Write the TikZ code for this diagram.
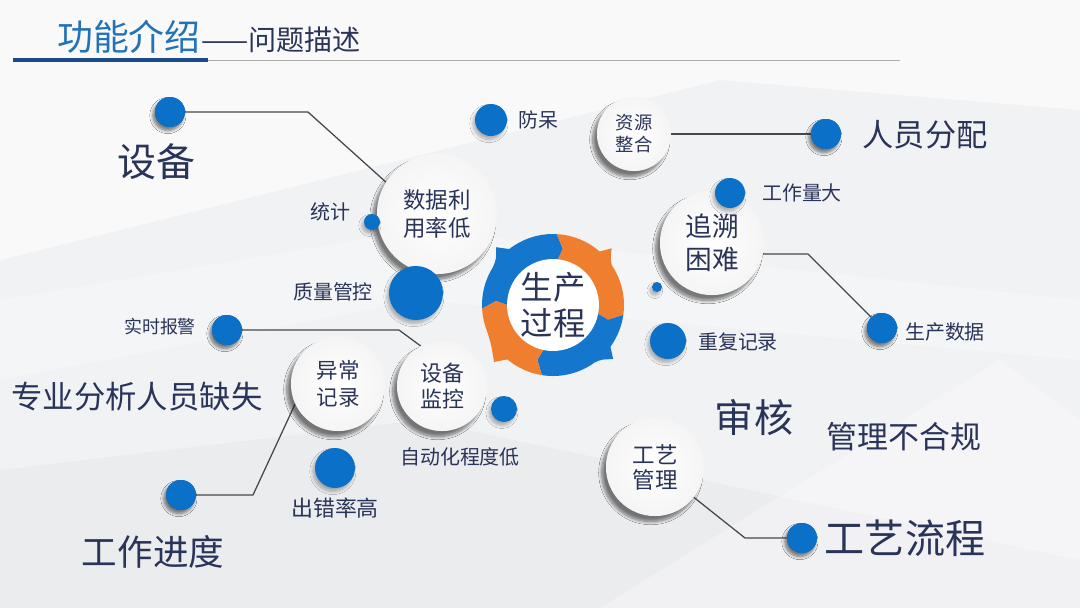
\documentclass[tikz,border=0pt]{standalone}
\usepackage{fontspec}
\setmainfont{Noto Sans CJK SC}
\usetikzlibrary{shadows.blur}
\definecolor{navy}{HTML}{2A3459}
\definecolor{hblue}{HTML}{2272B8}
\definecolor{hdark}{HTML}{1B4A8A}
\definecolor{dotblue}{HTML}{0B71C8}
\definecolor{ringblue}{HTML}{1576CE}
\definecolor{ringorange}{HTML}{EF7F2E}
\definecolor{linegray}{HTML}{45484F}
\definecolor{bggray}{HTML}{F1F2F4}
\newcommand\fsz[2]{\fontsize{#1}{#2}\selectfont}
\begin{document}
\begin{tikzpicture}[x=0.025cm,y=-0.025cm,
  bubble/.style={circle, inner sep=0pt, inner color=white, outer color=black!4,
    blur shadow={shadow xshift=-3pt, shadow yshift=-4pt, shadow opacity=30, shadow blur steps=10},
    text=navy, align=center},
  bdot/.style={circle, inner sep=0pt, fill=dotblue,
    blur shadow={shadow xshift=-1.5pt, shadow yshift=-2.5pt, shadow opacity=30, shadow blur steps=6}},
  lbl/.style={text=navy, inner sep=0pt},
  conn/.style={draw=linegray, line width=0.9pt},
]
\useasboundingbox (0,0) rectangle (1080,608);
% background
\fill[bggray] (0,0) rectangle (1080,608);
\fill[white, opacity=0.6] (0,0) -- (1080,0) -- (1080,110) -- (720,80) -- (0,260) -- cycle;
\fill[white, opacity=0.25] (0,300) -- (420,230) -- (1080,300) -- (1080,360) -- (420,300) -- (0,380) -- cycle;
\fill[black, opacity=0.025] (0,608) -- (0,470) -- (420,420) -- (1080,560) -- (1080,608) -- cycle;
\fill[white, opacity=0.3] (600,608) -- (1000,360) -- (1080,420) -- (1080,608) -- cycle;

% header
\node[anchor=west, inner sep=0pt, text=hblue, font=\fsz{25.5}{30}] (t1) at (57,37) {功能介绍};
\node[anchor=base west, inner sep=0pt, text=navy, font=\fsz{20}{24}] (t2) at (t1.base east) {——问题描述};
\draw[gray!65, line width=0.6pt] (208,60) -- (900,60);
\draw[hdark, line width=2.2pt] (13,60) -- (208,60);

% coordinates for connector bends
\coordinate (k1) at (308,112);
\coordinate (k3) at (808,254);
\coordinate (k4) at (399,330);
\coordinate (k5) at (253,495);
\coordinate (k6) at (745,538);

% bubbles (placed first so connectors can reference them; drawn on top later)
\node[bubble, minimum size=3cm, font=\fsz{16}{20}] (c1) at (437,214) {};
\node[bubble, minimum size=1.85cm, font=\fsz{13}{15.6}] (c2) at (634,134) {};
\node[bubble, minimum size=2.6cm, font=\fsz{19}{23.5}] (c3) at (712,243) {};
\node[bubble, minimum size=2.35cm, font=\fsz{15.3}{19.2}] (c4) at (338,384) {};
\node[bubble, minimum size=2.25cm, font=\fsz{15.6}{19}] (c5) at (442,386) {};
\node[bubble, minimum size=2.45cm, font=\fsz{16}{17.8}] (c6) at (655,467) {};

% blue dots
\node[bdot, minimum size=0.75cm] (d1) at (170,112) {};
\node[bdot, minimum size=0.8cm] (d2) at (491,120) {};
\node[bdot, minimum size=0.75cm] (d5) at (826,134) {};
\node[bdot, minimum size=0.75cm] (d9) at (882,328) {};
\node[bdot, minimum size=0.75cm] (d10) at (802,538) {};
\node[bdot, minimum size=0.75cm] (d11) at (227,330) {};
\node[bdot, minimum size=0.75cm] (d14) at (181,495) {};
\node[bdot, minimum size=1cm] (d13) at (335,468) {};
\node[bdot, minimum size=0.9cm] (d8) at (668,341) {};

% connectors
\draw[conn] (d1.center) -- (k1) -- (c1.148);
\draw[conn] (c2.center) -- (d5.center);
\draw[conn] (c3.-12) -- (k3) -- (d9.center);
\draw[conn] (d11.center) -- (k4) -- (c5.118);
\draw[conn] (c4.205) -- (k5) -- (d14.center);
\draw[conn] (c6.-38) -- (k6) -- (d10.center);

% redraw bubbles and dots above the connectors
\node[bubble, minimum size=3cm, font=\fsz{16}{20}] at (c1) {数据利\\用率低};
\node[bubble, minimum size=1.85cm, font=\fsz{13}{15.6}] at (c2) {资源\\整合};
\node[bubble, minimum size=2.6cm, font=\fsz{19}{23.5}] at (c3) {追溯\\困难};
\node[bubble, minimum size=2.35cm, font=\fsz{15.3}{19.2}] at (c4) {异常\\记录};
\node[bubble, minimum size=2.25cm, font=\fsz{15.6}{19}] at (c5) {设备\\监控};
\node[bubble, minimum size=2.45cm, font=\fsz{16}{17.8}] at (c6) {工艺\\管理};

\node[bdot, minimum size=0.75cm] at (d1) {};
\node[bdot, minimum size=0.75cm] at (d5) {};
\node[bdot, minimum size=0.75cm] at (d9) {};
\node[bdot, minimum size=0.75cm] at (d10) {};
\node[bdot, minimum size=0.75cm] at (d11) {};
\node[bdot, minimum size=0.75cm] at (d14) {};
\node[bdot, minimum size=0.4cm] (d3) at (372,222) {};
\node[bdot, minimum size=1.35cm] (d4) at (416,293) {};
\node[bdot, minimum size=0.75cm] (d6) at (730,193) {};
\node[bdot, minimum size=0.25cm] (d7) at (657,287) {};
\node[bdot, minimum size=0.65cm] (d12) at (504,409) {};

% central cycle
\begin{scope}[shift={(553,305)}, yscale=-1]
  \fill[ringblue] (183:71) arc[start angle=183, end angle=147.6, radius=71]
    .. controls (141:73) .. (134.5:81) -- (128:71)
    arc[start angle=128, end angle=87, radius=71] -- (80:57) -- (87:40)
    arc[start angle=87, end angle=183, radius=40] -- (176:57) -- cycle;
  \fill[ringorange] (87:71) arc[start angle=87, end angle=49, radius=71]
    -- (44:81.5) .. controls (38:73) .. (34:71)
    arc[start angle=34, end angle=-8, radius=71] -- (-15:57) -- (-8:40)
    arc[start angle=-8, end angle=87, radius=40] -- (80:57) -- cycle;
  \fill[ringblue] (-8:71) arc[start angle=-8, end angle=-36, radius=71]
    -- (-42:81) .. controls (-48:73) .. (-54:71)
    arc[start angle=-54, end angle=-99, radius=71] -- (-106:57) -- (-99:40)
    arc[start angle=-99, end angle=-8, radius=40] -- (-15:57) -- cycle;
  \fill[ringorange] (-99:71) arc[start angle=-99, end angle=-130, radius=71]
    -- (-136:82) .. controls (-148:73) .. (-158:71)
    arc[start angle=-158, end angle=-177, radius=71] -- (-184:57) -- (-177:40)
    arc[start angle=-177, end angle=-99, radius=40] -- (-106:57) -- cycle;
\end{scope}
\node[circle, fill=white, minimum size=2.2cm, inner sep=0pt, text=navy, align=center,
  font=\fsz{23}{25.6}] (ring) at (553,305) {生产\\过程};

% labels
\node[lbl, font=\fsz{27.7}{30}] (l1) at (156,162) {设备};
\node[lbl, font=\fsz{14.2}{16}] (l2) at (538,120) {防呆};
\node[lbl, font=\fsz{14.2}{16}] (l3) at (330,212) {统计};
\node[lbl, font=\fsz{14.2}{16}] (l4) at (333,292) {质量管控};
\node[lbl, font=\fsz{22.2}{26}] (l5) at (925,135) {人员分配};
\node[lbl, font=\fsz{14.2}{16}] (l6) at (802,193) {工作量大};
\node[lbl, font=\fsz{14.2}{16}] (l8) at (738,342) {重复记录};
\node[lbl, font=\fsz{14.2}{16}] (l9) at (945,332) {生产数据};
\node[lbl, font=\fsz{27.8}{30}] (l15) at (754,418) {审核};
\node[lbl, font=\fsz{22}{26}] (l16) at (904,437) {管理不合规};
\node[lbl, font=\fsz{28.5}{32}] (l10) at (905,538) {工艺流程};
\node[lbl, font=\fsz{12.8}{15}] (l11) at (160,327) {实时报警};
\node[lbl, font=\fsz{22.3}{26}] (l17) at (137,397) {专业分析人员缺失};
\node[lbl, font=\fsz{14.2}{16}] (l12) at (460,457) {自动化程度低};
\node[lbl, font=\fsz{15.6}{18}] (l13) at (335,508) {出错率高};
\node[lbl, font=\fsz{25.3}{28}] (l14) at (153,552) {工作进度};
\end{tikzpicture}
\end{document}
